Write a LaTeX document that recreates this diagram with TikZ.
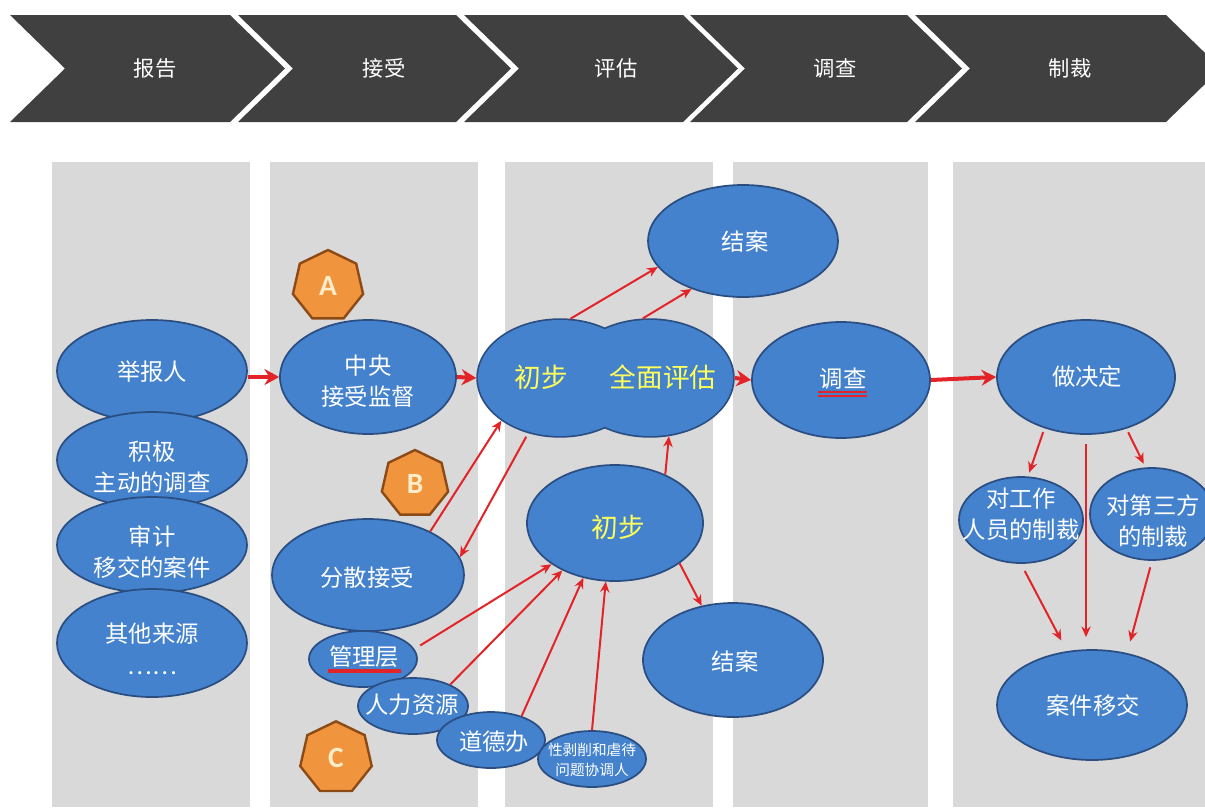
\documentclass[tikz,border=0pt]{standalone}
\usepackage{fontspec}
\setmainfont{Noto Sans CJK SC}
\newfontfamily\latinf{Carlito}
\usetikzlibrary{shapes.geometric,arrows.meta}
\definecolor{bfill}{RGB}{68,130,205}
\definecolor{bline}{RGB}{42,78,130}
\definecolor{colgray}{RGB}{217,217,217}
\definecolor{chev}{RGB}{64,64,64}
\definecolor{ared}{RGB}{226,36,40}
\definecolor{hfill}{RGB}{241,148,62}
\definecolor{hline}{RGB}{140,74,22}
\definecolor{hletter}{RGB}{255,236,200}
\definecolor{ytext}{RGB}{255,255,90}
\begin{document}
\begin{tikzpicture}[x=0.75pt,y=-0.75pt,
  bub/.style={ellipse, draw=bline, line width=1.3pt, fill=bfill, inner sep=0pt},
  txt/.style={text=white, font=\fontsize{17.5}{23.5}\selectfont, align=center, inner sep=0pt},
  ytxt/.style={text=ytext, font=\fontsize{20}{24}\selectfont, inner sep=0pt},
  stxt/.style={text=white, font=\fontsize{11}{15}\selectfont, align=center, inner sep=0pt},
  hdr/.style={text=white, font=\fontsize{16}{20}\selectfont, inner sep=0pt},
  hept/.style={regular polygon, regular polygon sides=7, draw=hline, line width=1.8pt, fill=hfill, inner sep=0pt, text=hletter, font=\latinf\bfseries\fontsize{22}{24}\selectfont},
  arr/.style={draw=ared, line width=1.5pt, -{Stealth[length=8pt,width=7pt]}},
  bigarr/.style={draw=ared, line width=3pt, -{Stealth[length=11pt,width=12pt]}}
]
\useasboundingbox (0,0) rectangle (1205,807);
% columns
\fill[colgray] (52,162) rectangle (250,807);
\fill[colgray] (270,162) rectangle (478,807);
\fill[colgray] (505,162) rectangle (713,807);
\fill[colgray] (733,162) rectangle (928,807);
\fill[colgray] (953,162) rectangle (1205,807);
% chevrons
\fill[chev] (10,15) -- (230,15) -- (285,68.5) -- (230,122) -- (10,122) -- (65,68.5) -- cycle;
\fill[chev] (238,15) -- (456,15) -- (511,68.5) -- (456,122) -- (238,122) -- (293,68.5) -- cycle;
\fill[chev] (464,15) -- (683,15) -- (738,68.5) -- (683,122) -- (464,122) -- (519,68.5) -- cycle;
\fill[chev] (690,15) -- (907,15) -- (962,68.5) -- (907,122) -- (690,122) -- (745,68.5) -- cycle;
\fill[chev] (915,15) -- (1166,15) -- (1221,68.5) -- (1166,122) -- (915,122) -- (970,68.5) -- cycle;
\node[hdr] (h1) at (155,68) {报告};
\node[hdr] (h2) at (384,68) {接受};
\node[hdr] (h3) at (616,68) {评估};
\node[hdr] (h4) at (835,68) {调查};
\node[hdr] (h5) at (1070,68) {制裁};
% column 1
\node[bub, minimum width=142.5pt, minimum height=76.5pt] (n1) at (152,371) {};
\node[txt] (n1t) at (152,372) {举报人};
\node[bub, minimum width=142.5pt, minimum height=72pt] (n2) at (152,460) {};
\node[txt] (n2t) at (152,467) {积极\\主动的调查};
\node[bub, minimum width=142.5pt, minimum height=72pt] (n3) at (152,545) {};
\node[txt] (n3t) at (152,552) {审计\\移交的案件};
\node[bub, minimum width=142.5pt, minimum height=81pt] (n4) at (152,643) {};
\node[txt] (n4t) at (152,649) {其他来源\\……};
% column 2
\node[hept, minimum size=54pt] (ha) at (328,286) {A};
\node[bub, minimum width=132pt, minimum height=85.5pt] (zy) at (368,377) {};
\node[txt] (zyt) at (368,381) {中央\\接受监督};
\node[hept, minimum size=51pt] (hb) at (415,484) {B};
\node[bub, minimum width=144pt, minimum height=84pt] (fs) at (368,575) {};
\node[txt] (fst) at (367,578) {分散接受};
\node[bub, minimum width=81pt, minimum height=42pt] (gl) at (363,659) {};
\node[txt] (glt) at (364,657) {管理层};
\draw[ared, line width=2.8pt] (328,671) -- (401,671);
\node[bub, minimum width=82.5pt, minimum height=42pt] (rl) at (413,706) {};
\node[txt] (rlt) at (412,705) {人力资源};
\node[bub, minimum width=81pt, minimum height=42pt] (dd) at (491,740) {};
\node[txt] (ddt) at (494,742) {道德办};
\node[bub, minimum width=81pt, minimum height=42pt] (xb) at (592,759) {};
\node[stxt] (xbt) at (592,760) {性剥削和虐待\\问题协调人};
\node[hept, minimum size=55pt] (hc) at (336,758) {C};
% column 3 combined
\node[ellipse, draw=bline, line width=2.6pt, inner sep=0pt, minimum width=123pt, minimum height=87pt] (cbL) at (560,378) {};
\node[ellipse, draw=bline, line width=2.6pt, inner sep=0pt, minimum width=124.5pt, minimum height=87pt] (cbR) at (650,378) {};
\node[ellipse, fill=bfill, inner sep=0pt, minimum width=123pt, minimum height=87pt] at (560,378) {};
\node[ellipse, fill=bfill, inner sep=0pt, minimum width=124.5pt, minimum height=87pt] at (650,378) {};
\node[ytxt] (cbLt) at (541,377) {初步};
\node[ytxt] (cbRt) at (663,377) {全面评估};
\node[bub, minimum width=142.5pt, minimum height=84pt] (ja1) at (743,241) {};
\node[txt] (ja1t) at (745,242) {结案};
\node[bub, minimum width=132pt, minimum height=87pt] (cb2) at (615,523) {};
\node[ytxt] (cb2t) at (618,527) {初步};
\node[bub, minimum width=135pt, minimum height=85.5pt] (ja2) at (733,660) {};
\node[txt] (ja2t) at (735,662) {结案};
% column 4
\node[bub, minimum width=133.5pt, minimum height=87pt] (dc) at (841,380) {};
\node[txt] (dct) at (843,379) {调查};
\draw[ared, line width=1.5pt] (818,391.5) -- (867,391.5);
\draw[ared, line width=1.5pt] (818,396) -- (867,396);
% column 5
\node[bub, minimum width=133.5pt, minimum height=85.5pt] (jd) at (1086,377) {};
\node[txt] (jdt) at (1087,377) {做决定};
\node[bub, minimum width=93pt, minimum height=64.5pt] (sg) at (1021,520) {};
\node[txt] (sgt) at (1021,514) {对工作\\人员的制裁};
\node[bub, minimum width=93pt, minimum height=69pt] (sd) at (1152,514) {};
\node[txt] (sdt) at (1153,521) {对第三方\\的制裁};
\node[bub, minimum width=142.5pt, minimum height=82.5pt] (yj) at (1092,705) {};
\node[txt] (yjt) at (1093,706) {案件移交};
% big arrows
\draw[bigarr] (n1.east |- zy.west) -- (zy.west);
\draw[bigarr] (zy.east) -- (cbL.west);
\draw[bigarr] (cbR.east) -- (dc.west);
\draw[bigarr] (dc.east) -- (jd.west);
% thin arrows
\draw[arr] (cbL.80) -- (ja1.197);
\draw[arr] (cbR.97) -- (ja1.223);
\draw[arr] (fs.35) -- (cbL.216);
\draw[arr, shorten <=3pt] (cbL.240) -- (fs.11);
\draw[arr] (cb2.44) -- (cbR.288);
\draw[arr] (cb2.328) -- (ja2.120);
\draw[arr, shorten <=5pt] (gl.11) -- (cb2.213);
\draw[arr] (rl.30) -- (cb2.222);
\draw[arr] (dd.38) -- (cb2.240);
\draw[arr] (xb.90) -- (cb2.261);
\draw[arr, shorten <=3pt, shorten >=3pt] (jd.231) -- (sg.81);
\draw[arr, shorten <=3pt, shorten >=3pt] (jd.308) -- (sd.98);
\draw[arr, shorten <=7pt, shorten >=9pt] (jd.south) -- (jd.south |- yj.north);
\draw[arr, shorten <=6pt, shorten >=9pt] (sg.south) -- (yj.115);
\draw[arr, shorten <=5pt, shorten >=9pt] (sd.south) -- (yj.56);
\end{tikzpicture}
\end{document}
